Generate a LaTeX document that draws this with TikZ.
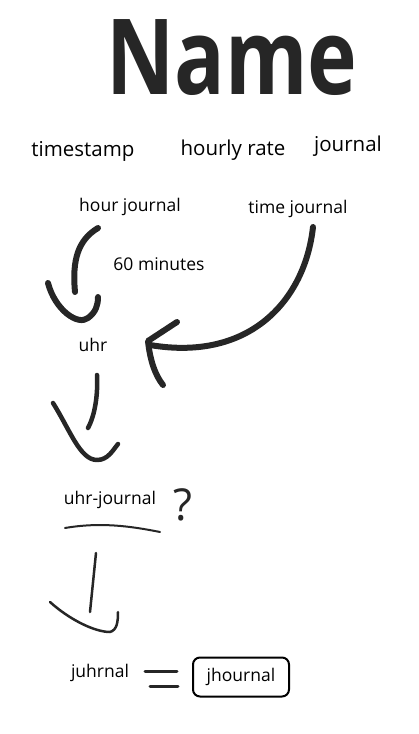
\documentclass[tikz,border=0pt]{standalone}
\usepackage{fontspec}
\setmainfont{Open Sans}
\begin{document}
\begin{tikzpicture}[x=1pt,y=-1pt,
  word/.style={inner sep=0pt,font=\fontsize{20.5}{24}\selectfont},
  smallword/.style={inner sep=0pt,font=\fontsize{17.5}{21}\selectfont},
  heavy/.style={line width=6pt,line cap=round,line join=round,draw=black!85},
  pen/.style={line width=3pt,line cap=round,line join=round,draw=black!85}]
  \useasboundingbox (0,0) rectangle (418,734);
  % titles
  \node[inner sep=0pt,font=\fontsize{84}{92}\selectfont\bfseries,yscale=1.25,text=black!85] (name) at (232,58) {Name};
  \node[word] (timestamp) at (83,151) {timestamp}; \node[word] (rate) at (233,150) {hourly rate}; \node[word] (journal) at (348,146) {journal};
  \node[smallword] (hourj) at (130,207) {hour journal}; \node[smallword] (timej) at (298,209) {time journal};
  \node[smallword] (minutes) at (159,264) {60 minutes}; \node[smallword] (uhr) at (93,345) {uhr};
  \node[smallword] (uhrj) at (110,500) {uhr-journal}; \node[inner sep=0pt,font=\fontsize{44}{48}\selectfont,text=black!85] (ask) at (183,505) {?};
  \node[smallword] (juhrnal) at (100,673) {juhrnal};
  \node[smallword,draw,line width=2pt,rounded corners=7pt,minimum width=96pt,minimum height=39pt] (jhournal) at (241,677) {jhournal};
  % stroke ends
  \coordinate (a1) at (98,228); \coordinate (a2) at (75,292); \coordinate (b1) at (313,227); \coordinate (b2) at (150,345);
  \coordinate (c1) at (97,375); \coordinate (c2) at (88,428); \coordinate (d1) at (96,553); \coordinate (d2) at (90,612);
  \coordinate (u1) at (65,528); \coordinate (u2) at (160,532);
  % arrows
  \draw[heavy] (a1) .. controls (78,240) and (72,260) .. (a2);
  \draw[heavy] (48,283) .. controls (55,310) and (78,326) .. (88,318) .. controls (96,312) and (98,305) .. (98,297);
  \draw[heavy] (b1) .. controls (305,300) and (250,362) .. (b2);
  \draw[heavy] (177,322) -- (148,341) .. controls (150,360) and (155,375) .. (163,385);
  \draw[pen,line width=4.5pt] (c1) .. controls (98,395) and (95,415) .. (c2);
  \draw[pen,line width=4.5pt] (53,403) .. controls (70,430) and (80,460) .. (97,460) .. controls (108,460) and (113,450) .. (118,444);
  \draw[pen,line width=2pt] (u1) .. controls (100,522) and (130,526) .. (u2);
  \draw[pen,line width=2.5pt] (d1) -- (d2);
  \draw[pen,line width=2.5pt] (50,602) .. controls (70,620) and (95,632) .. (110,632) .. controls (117,630) and (118,622) .. (118,612);
  \draw[pen] (145,671) -- (177,671); \draw[pen] (150,686) -- (178,686);
\end{tikzpicture}
\end{document}
